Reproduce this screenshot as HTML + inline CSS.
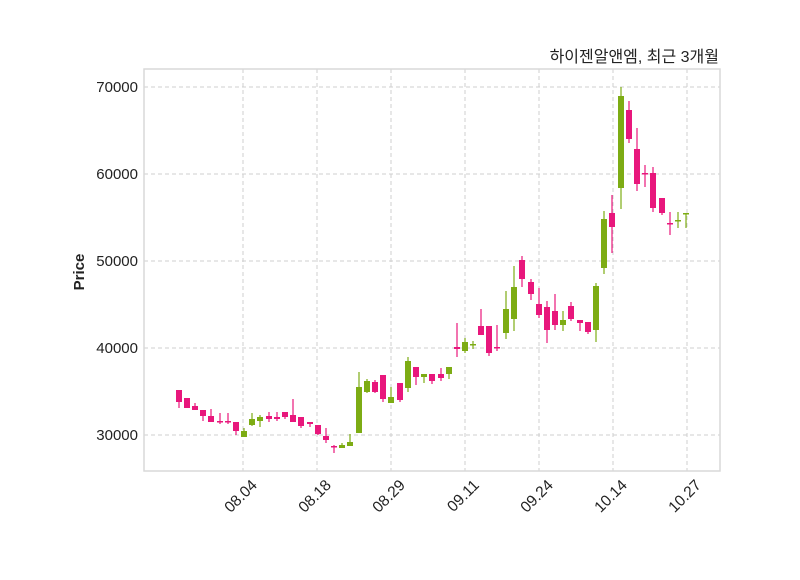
<!DOCTYPE html>
<html><head><meta charset="utf-8"><style>
body{margin:0;background:#fff;}
svg text{font-family:"Liberation Sans","Noto Sans CJK KR",sans-serif;fill:#222;}
</style></head><body>
<svg id="s" width="800" height="575" xmlns="http://www.w3.org/2000/svg">
<rect width="800" height="575" fill="#fff"/>
<g stroke="#cfcfcf" stroke-dasharray="4,3" stroke-width="1">
<line x1="144" x2="720" y1="87" y2="87"/><line x1="144" x2="720" y1="174" y2="174"/>
<line x1="144" x2="720" y1="261" y2="261"/><line x1="144" x2="720" y1="348" y2="348"/>
<line x1="144" x2="720" y1="435" y2="435"/>
<line x1="243" x2="243" y1="69" y2="471"/><line x1="317" x2="317" y1="69" y2="471"/>
<line x1="391" x2="391" y1="69" y2="471"/><line x1="465" x2="465" y1="69" y2="471"/>
<line x1="539" x2="539" y1="69" y2="471"/><line x1="613" x2="613" y1="69" y2="471"/>
<line x1="687" x2="687" y1="69" y2="471"/>
</g>
<rect x="144" y="69" width="576" height="402" fill="none" stroke="#d9d9d9" stroke-width="1.5"/>
<g font-size="15" text-anchor="end">
<text x="138" y="92">70000</text><text x="138" y="179">60000</text>
<text x="138" y="266">50000</text><text x="138" y="353">40000</text>
<text x="138" y="440">30000</text>
</g>
<g font-size="15.5" text-anchor="end">
<text transform="translate(258,486) rotate(-45)">08.04</text>
<text transform="translate(332,486) rotate(-45)">08.18</text>
<text transform="translate(406,486) rotate(-45)">08.29</text>
<text transform="translate(480,486) rotate(-45)">09.11</text>
<text transform="translate(554,486) rotate(-45)">09.24</text>
<text transform="translate(628,486) rotate(-45)">10.14</text>
<text transform="translate(702,486) rotate(-45)">10.27</text>
</g>
<text transform="translate(84,272) rotate(-90)" font-size="15" font-weight="bold" text-anchor="middle">Price</text>
<text x="719" y="62" font-size="16" text-anchor="end">하이젠알앤엠, 최근 3개월</text>
<g id="c"></g>
</svg>
<script>
var P='#e8177c',G='#7dac14';
var d=[
[179,390,402,390,408,P],[187,398,408,398,408,P],[195,406,410,403,410,P],[203,410,416,410,421,P],
[211,416,422,409,422,P],[220,421,422,413,424,P],[228,421,422,413,424,P],[236,422,431,422,435,P],
[244,431,437,428,437,G],[252,419,425,413,426,G],[260,417,421,415,427,G],[269,416,419,412,422,P],
[277,417,419,412,421,P],[285,412,417,412,419,P],[293,415,422,399,422,P],[301,417,426,417,428,P],
[310,422,424,422,427,P],[318,425,434,425,435,P],[326,436,440,428,443,P],[334,446,447,445,453,P],
[342,445,448,443,448,G],[350,442,446,434,446,G],[359,387,433,372,433,G],[367,381,392,379,393,G],
[375,382,392,380,393,P],[383,375,399,375,402,P],[391,397,403,387,403,G],[400,383,400,383,402,P],
[408,361,388,357,392,G],[416,367,377,367,385,P],[424,374,377,374,383,G],[432,374,381,374,384,P],
[441,374,378,368,381,P],[449,367,374,367,379,G],[457,347,349,323,357,P],[465,342,351,338,353,G],
[473,344,345,341,349,G],[481,326,335,309,335,P],[489,326,353,326,356,P],[497,347,348,325,351,P],
[506,309,333,291,339,G],[514,287,319,266,331,G],[522,260,279,256,287,P],[531,282,294,279,300,P],
[539,304,315,288,318,P],[547,307,330,301,343,P],[555,311,325,294,330,P],[563,320,325,311,331,G],
[571,306,319,302,321,P],[580,320,323,320,331,P],[588,322,332,322,334,P],[596,286,330,283,342,G],
[604,219,268,211,274,G],[612,213,227,195,253,P],[621,96,188,87,209,G],[629,110,139,101,143,P],
[637,149,184,128,191,P],[645,173,174,165,187,P],[653,173,208,167,212,P],[662,198,213,198,215,P],
[670,223,224,212,235,P],[678,220,221,212,228,G],[686,213,214,213,228,G]];
var h='';
d.forEach(function(c){
h+='<line x1="'+c[0]+'" x2="'+c[0]+'" y1="'+c[3]+'" y2="'+c[4]+'" stroke="'+c[5]+'" stroke-width="1.2"/>';
var hh=Math.max(c[2]-c[1],1.5);
h+='<rect x="'+(c[0]-3)+'" y="'+c[1]+'" width="6" height="'+hh+'" fill="'+c[5]+'"/>';
});
document.getElementById('c').innerHTML=h;
</script>
</body></html>
